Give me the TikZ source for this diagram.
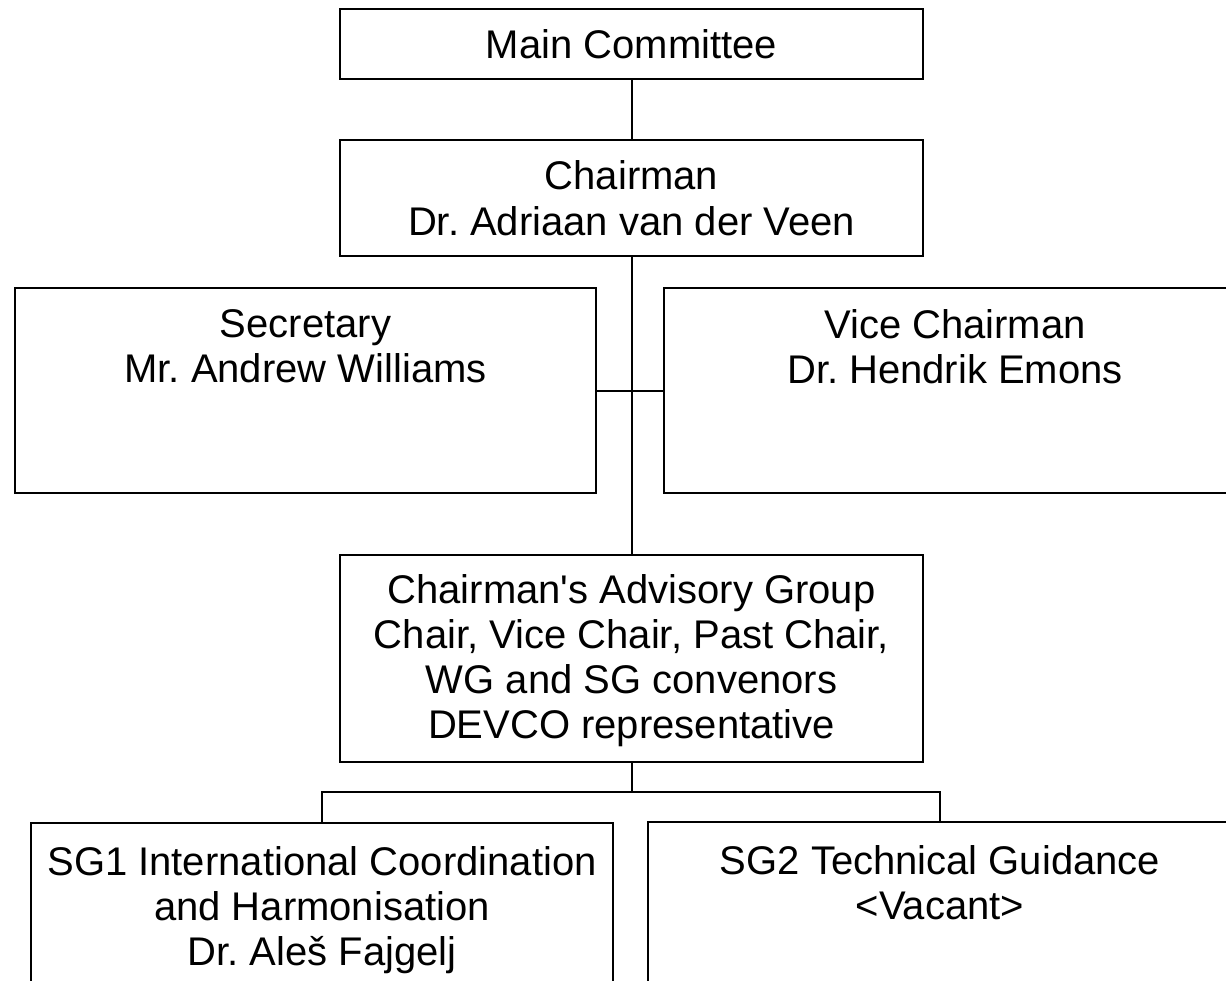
\documentclass[tikz,border=0pt]{standalone}
\usepackage{fontspec}
\newfontfamily\arialf{Liberation Sans}
\frenchspacing
\begin{document}
\begin{tikzpicture}[x=1pt,y=-1pt,
  box/.style={draw=black,line width=2pt,rectangle,inner sep=0pt,outer sep=0pt,
    font=\arialf\fontsize{40}{46}\selectfont\frenchspacing,align=center},
  lbl/.style={inner sep=0pt,outer sep=0pt,anchor=north,
    font=\arialf\fontsize{40}{45}\selectfont\frenchspacing,align=center},
  conn/.style={draw=black,line width=2pt}]
\useasboundingbox (0,0) rectangle (1226,980);
\clip (0,0) rectangle (1226,980);
\fill[white] (0,0) rectangle (1226,980);
% boxes
\node[box,minimum width=583pt,minimum height=70pt] (main) at (631.5,44) {Main Committee};
\node[box,minimum width=583pt,minimum height=116pt] (chair) at (631.5,198) {Chairman\\Dr. Adriaan van der Veen};
\node[box,minimum width=581pt,minimum height=205pt] (sec) at (305.5,390.5) {};
\node[box,minimum width=582pt,minimum height=205pt] (vice) at (955,390.5) {};
\node[box,minimum width=583pt,minimum height=207pt] (cag) at (631.5,658.5) {};
\node[box,minimum width=582pt,minimum height=205pt] (sg1) at (322,925.5) {};
\node[box,minimum width=584pt,minimum height=205pt] (sg2) at (940,924.5) {};
% labels
\node[lbl] (cagT) at ([yshift=-20pt]cag.north) {Chairman's Advisory Group\\Chair, Vice Chair, Past Chair,\\WG and SG convenors\\DEVCO representative};
\node[lbl] (secT) at ([yshift=-22pt]sec.north) {Secretary\\Mr. Andrew Williams};
\node[lbl] (viceT) at ([yshift=-22pt]vice.north) {Vice Chairman\\Dr. Hendrik Emons};
\node[lbl] (sg1T) at ([yshift=-24pt]sg1.north) {SG1 International Coordination\\and Harmonisation\\Dr. Ale\v{s} Fajgelj};
\node[lbl] (sg2T) at ([yshift=-24pt]sg2.north) {SG2 Technical Guidance\\<Vacant>};
% connectors
\coordinate (bus) at (631.5,792);
\draw[conn] (main.south) -- (chair.north);
\draw[conn] (chair.south) -- (cag.north);
\draw[conn] (sec.east) -- (vice.west);
\draw[conn] (cag.south) -- (bus);
\draw[conn] (sg1.north) |- (bus) -| (sg2.north);
\end{tikzpicture}
\end{document}
